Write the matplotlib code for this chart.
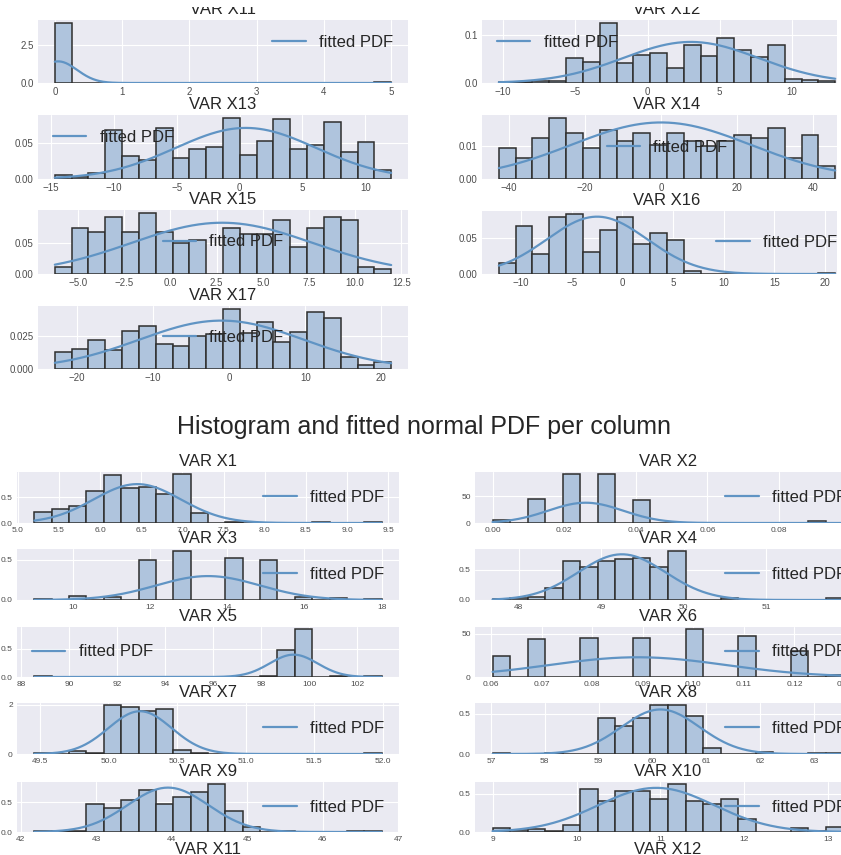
import numpy as np
import matplotlib.pyplot as plt
from matplotlib.patches import Rectangle
from matplotlib.ticker import MultipleLocator

# density of each of the 20 histogram bins
x1_hist = [0.21, 0.28, 0.32, 0.61, 0.92, 0.67, 0.70, 0.56, 0.94, 0.19,
           0, 0.02, 0, 0, 0, 0, 0.01, 0, 0, 0.01]
x2_hist = [5, 0, 45.6, 0, 91, 0, 91, 0, 42.5, 0,
           0, 0, 0, 0, 0, 0, 0, 0, 3.75, 0]
x3_hist = [0.012, 0, 0.05, 0, 0.033, 0, 0.49, 0, 0.60, 0,
           0, 0.52, 0, 0.50, 0, 0.04, 0, 0.03, 0, 0.012]
x4_hist = [0.02, 0.04, 0.045, 0.19, 0.65, 0.55, 0.65, 0.68, 0.69, 0.55,
           0.80, 0, 0, 0.04, 0, 0, 0, 0, 0, 0.03]
x5_hist = [0.01, 0, 0, 0, 0, 0, 0, 0, 0, 0,
           0, 0, 0, 0.02, 0.48, 0.85, 0, 0.015, 0, 0.01]
x6_hist = [24.6, 0, 43.6, 0, 0, 45.5, 0, 0, 44.7, 0,
           0, 55, 0, 0, 47.3, 0, 0, 29.5, 0, 2]
x7_hist = [0.05, 0, 0.12, 0.05, 1.97, 1.89, 1.75, 1.82, 0.16, 0.05,
           0, 0, 0, 0, 0, 0, 0, 0, 0, 0.05]
x8_hist = [0.01, 0, 0, 0.015, 0, 0, 0.45, 0.34, 0.44, 0.60,
           0.60, 0.47, 0.07, 0, 0, 0.03, 0, 0, 0.01, 0.01]
x9_hist = [0.01, 0.02, 0.02, 0.47, 0.40, 0.54, 0.70, 0.47, 0.59, 0.68,
           0.80, 0.36, 0.09, 0, 0.015, 0, 0, 0, 0.02, 0.02]
x10_hist = [0.05, 0.02, 0.04, 0.013, 0.09, 0.555, 0.41, 0.53, 0.53, 0.43,
            0.62, 0.41, 0.37, 0.43, 0.17, 0, 0, 0.05, 0.013, 0.07]
x11_hist = [3.95, 0, 0, 0, 0, 0, 0, 0, 0, 0,
            0, 0, 0, 0, 0, 0, 0, 0, 0, 0.05]
x12_hist = [0.002, 0.003, 0.005, 0.005, 0.051, 0.044, 0.124, 0.041, 0.058, 0.062,
            0.030, 0.078, 0.055, 0.092, 0.069, 0.053, 0.079, 0.008, 0.007, 0.005]
x13_hist = [0.006, 0.003, 0.009, 0.068, 0.032, 0.026, 0.071, 0.029, 0.042, 0.045,
            0.085, 0.034, 0.053, 0.083, 0.042, 0.048, 0.079, 0.037, 0.051, 0.013]
x14_hist = [0.0093, 0.0063, 0.0123, 0.0183, 0.0138, 0.0093, 0.0146, 0.0113, 0.0138, 0.0103,
            0.0138, 0.0113, 0.0098, 0.0113, 0.0133, 0.0123, 0.0153, 0.0063, 0.0133, 0.0040]
x15_hist = [0.0118, 0.0737, 0.0667, 0.0898, 0.0667, 0.0968, 0.0667, 0.0495, 0.0538, 0,
            0.0737, 0.064, 0.064, 0.0855, 0.043, 0.0737, 0.0898, 0.0855, 0.0118, 0.0075]
x16_hist = [0.0154, 0.068, 0.0285, 0.0808, 0.0845, 0.0308, 0.062, 0.0808, 0.0425, 0.0584,
            0.048, 0.0037, 0, 0, 0, 0, 0, 0, 0, 0.0014]
x17_hist = [0.0128, 0.0153, 0.0225, 0.0145, 0.0288, 0.0328, 0.019, 0.0175, 0.025, 0.027,
            0.0458, 0.0275, 0.0358, 0.0208, 0.0283, 0.0438, 0.0388, 0.0095, 0.0033, 0.005]

hist_heights = {'X1': x1_hist, 'X2': x2_hist, 'X3': x3_hist, 'X4': x4_hist,
                'X5': x5_hist, 'X6': x6_hist, 'X7': x7_hist, 'X8': x8_hist,
                'X9': x9_hist, 'X10': x10_hist, 'X11': x11_hist, 'X12': x12_hist,
                'X13': x13_hist, 'X14': x14_hist, 'X15': x15_hist, 'X16': x16_hist,
                'X17': x17_hist}

# min / max of each column (outer bin edges)
bin_range = {'X1': (5.20, 9.42), 'X2': (0.0, 0.098), 'X3': (9.0, 18.0),
             'X4': (47.68, 51.94), 'X5': (88.54, 103.02), 'X6': (0.0603, 0.1297),
             'X7': (49.46, 51.99), 'X8': (57.03, 63.55), 'X9': (42.18, 46.78),
             'X10': (8.99, 13.19), 'X11': (0.0, 5.0), 'X12': (-10.3, 13.0),
             'X13': (-14.68, 12.05), 'X14': (-42.65, 45.8), 'X15': (-6.25, 11.95),
             'X16': (-12.2, 21.0), 'X17': (-22.9, 21.3)}

# fitted normal (mean, std)
fit_params = {'X1': (6.45, 0.53), 'X2': (0.026, 0.0105), 'X3': (13.5, 1.35),
              'X4': (49.25, 0.53), 'X5': (99.35, 1.0), 'X6': (0.089, 0.0175),
              'X7': (50.23, 0.23), 'X8': (60.15, 0.725), 'X9': (43.95, 0.535),
              'X10': (10.95, 0.694), 'X11': (0.05, 0.28), 'X12': (3.0, 4.7),
              'X13': (0.5, 5.6), 'X14': (0.0, 23.5), 'X15': (2.8, 4.9),
              'X16': (-2.5, 4.94), 'X17': (-1.0, 10.8)}

plt.style.use('seaborn-v0_8-darkgrid')
plt.rcParams['font.family'] = ['Liberation Sans', 'DejaVu Sans']

W, H = 841, 855
fig = plt.figure(figsize=(W / 100, H / 100), dpi=100)


def px_rect(l, t, r, b):
    return [l / W, 1 - b / H, (r - l) / W, (b - t) / H]


def draw(name, rect, loc, xstep, ystep, tick_fs):
    ax = fig.add_axes(px_rect(*rect))
    heights = hist_heights[name]
    lo, hi = bin_range[name]
    edges = np.linspace(lo, hi, len(heights) + 1)
    ax.bar(edges[:-1], heights, width=np.diff(edges), align='edge',
           color='#afc4dd', edgecolor='#2e2e2e', linewidth=1.1)
    mu, sd = fit_params[name]
    xs = np.linspace(lo, hi, 300)
    pdf = np.exp(-0.5 * ((xs - mu) / sd) ** 2) / (sd * np.sqrt(2 * np.pi))
    ax.plot(xs, pdf, color='#6094c4', lw=1.6, label='fitted PDF')
    ax.xaxis.set_major_locator(MultipleLocator(xstep))
    ax.set_yticks([0, ystep])
    ax.tick_params(labelsize=tick_fs, labelcolor='#4d4d4d', pad=3)
    ax.set_title(f'VAR {name}', fontsize=12, pad=4, color='#262626')
    ax.legend(loc=loc, fontsize=12, frameon=False)
    return ax


# first screenshot (top part)
top_l, top_r = (38, 408), (482, 852)
draw('X11', (top_l[0], 20, top_l[1], 83), 'upper right', 1, 2.5, 7)
draw('X12', (top_r[0], 20, top_r[1], 83), 'upper left', 5, 0.1, 7)
draw('X13', (top_l[0], 115, top_l[1], 179), 'upper left', 5, 0.05, 7)
draw('X14', (top_r[0], 115, top_r[1], 179), 'center', 20, 0.01, 7)
draw('X15', (top_l[0], 210, top_l[1], 274), 'center', 2.5, 0.05, 7)
draw('X16', (top_r[0], 211, top_r[1], 274), 'center right', 5, 0.05, 7)
draw('X17', (top_l[0], 306, top_l[1], 369), 'center', 10, 0.025, 7)

# the top screenshot is cropped: white band above and at its right edge
fig.add_artist(Rectangle((0, 1 - 7 / H), 1, 7 / H, transform=fig.transFigure,
                         facecolor='white', edgecolor='none', zorder=10))
fig.add_artist(Rectangle((837 / W, 1 - 385 / H), 4 / W, 385 / H,
                         transform=fig.transFigure,
                         facecolor='white', edgecolor='none', zorder=10))

fig.text(424 / W, 1 - 427 / H, 'Histogram and fitted normal PDF per column',
         ha='center', va='center', fontsize=18, color='#262626')

# second screenshot (bottom part)
bot_l, bot_r = (17, 399), (475, 861)
rows = [(472, 523), (549, 600), (627, 677), (703, 754), (782, 832), (860, 911)]
draw('X1', (bot_l[0], rows[0][0], bot_l[1], rows[0][1]), 'center right', 0.5, 0.5, 6)
draw('X2', (bot_r[0], rows[0][0], bot_r[1], rows[0][1]), 'center right', 0.02, 50, 6)
draw('X3', (bot_l[0], rows[1][0], bot_l[1], rows[1][1]), 'center right', 2, 0.5, 6)
draw('X4', (bot_r[0], rows[1][0], bot_r[1], rows[1][1]), 'center right', 1, 0.5, 6)
draw('X5', (bot_l[0], rows[2][0], bot_l[1], rows[2][1]), 'center left', 2, 0.5, 6)
draw('X6', (bot_r[0], rows[2][0], bot_r[1], rows[2][1]), 'center right', 0.01, 50, 6)
draw('X7', (bot_l[0], rows[3][0], bot_l[1], rows[3][1]), 'center right', 0.5, 2, 6)
draw('X8', (bot_r[0], rows[3][0], bot_r[1], rows[3][1]), 'center right', 1, 0.5, 6)
draw('X9', (bot_l[0], rows[4][0], bot_l[1], rows[4][1]), 'center right', 1, 0.5, 6)
draw('X10', (bot_r[0], rows[4][0], bot_r[1], rows[4][1]), 'center right', 1, 0.5, 6)
draw('X11', (bot_l[0], rows[5][0], bot_l[1], rows[5][1]), 'upper right', 1, 2.5, 6)
draw('X12', (bot_r[0], rows[5][0], bot_r[1], rows[5][1]), 'upper left', 5, 0.1, 6)

fig.savefig('out.png', dpi=100)
